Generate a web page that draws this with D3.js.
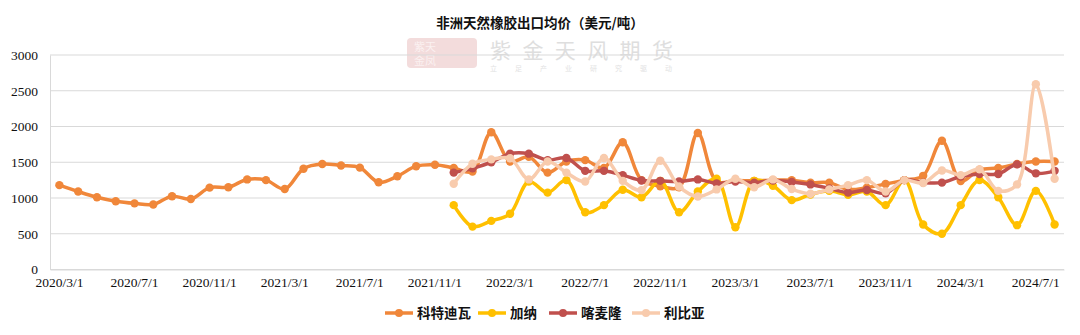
<!DOCTYPE html>
<html>
<head>
<meta charset="utf-8">
<script src="https://cdn.jsdelivr.net/npm/d3@7"></script>
<style>
  html, body { margin: 0; padding: 0; background: #fff; }
  svg { display: block; }
</style>
</head>
<body>
<svg id="chart" width="1080" height="335"></svg>
<script>
// Monthly export prices, 2020/3 – 2024/8 (USD per tonne)
const months = [];
for (let y = 2020, m = 3; !(y === 2024 && m === 9); ) {
  months.push(`${y}/${m}/1`);
  m++; if (m > 12) { m = 1; y++; }
}

const coteDIvoire = [1180, 1090, 1010, 955, 925, 910, 1025, 985, 1145, 1150,
  1260, 1250, 1125, 1410, 1475, 1455, 1425, 1220, 1305, 1445,
  1465, 1420, 1370, 1920, 1510, 1575, 1355, 1510, 1530, 1420,
  1780, 1250, 1165, 1150, 1910, 1230, 1243, 1240, 1250, 1250,
  1215, 1215, 1120, 1145, 1196, 1250, 1310, 1800, 1238, 1395,
  1420, 1475, 1510, 1510];

// Remaining series start in 2021/12
const pad = new Array(21).fill(null);
const ghana = pad.concat([900, 600, 680, 780, 1230, 1075, 1250, 800, 900,
  1115, 1010, 1240, 800, 1090, 1270, 590, 1240, 1170, 970,
  1050, 1100, 1045, 1090, 900, 1250, 630, 500, 900, 1250,
  1010, 620, 1100, 630]);
const cameroon = pad.concat([1355, 1415, 1500, 1620, 1620, 1530, 1560, 1380, 1380,
  1320, 1245, 1240, 1230, 1260, 1205, 1230, 1215, 1245, 1225,
  1190, 1135, 1075, 1112, 1065, 1250, 1215, 1215, 1300, 1336,
  1336, 1470, 1345, 1380]);
const liberia = pad.concat([1200, 1480, 1540, 1556, 1260, 1510, 1355, 1230, 1560,
  1240, 1110, 1520, 1160, 1020, 1120, 1270, 1150, 1260, 1125,
  1060, 1120, 1180, 1250, 1090, 1250, 1210, 1385, 1320, 1400,
  1100, 1190, 2590, 1270]);

const seriesNames = ["科特迪瓦", "加纳", "喀麦隆", "利比亚"];
const seriesColors = ["#F0873A", "#FFC000", "#C0504D", "#F8CBAD"];
const seriesValues = [coteDIvoire, ghana, cameroon, liberia];

const yTicks = [0, 500, 1000, 1500, 2000, 2500, 3000];
const xTickLabels = months.filter((d, i) => i % 4 === 0);

const svg = d3.select("#chart");
const margin = { left: 50, right: 16, top: 55, bottom: 65.5 };
const W = 1080, H = 335;

const x = d3.scaleBand().domain(months).range([margin.left, W - margin.right]);
const y = d3.scaleLinear().domain([0, 3000]).range([H - margin.bottom, margin.top]);
const cx = d => x(d) + x.bandwidth() / 2;

// Watermark: seal plus company name
const wm = svg.append("g");
wm.append("rect").attr("x", 407).attr("y", 38).attr("width", 70).attr("height", 30)
  .attr("rx", 4).attr("fill", "#f3dcdc");
wm.append("text").attr("x", 414).attr("y", 51).attr("fill", "#fbf1f1")
  .attr("font-family", "Noto Sans CJK SC").attr("font-size", 11)
  .text("紫天");
wm.append("text").attr("x", 414).attr("y", 65).attr("fill", "#fbf1f1")
  .attr("font-family", "Noto Sans CJK SC").attr("font-size", 11)
  .text("金凤");
wm.append("text").attr("x", 490).attr("y", 58).attr("fill", "#dedede")
  .attr("font-family", "Noto Sans CJK SC").attr("font-size", 21)
  .attr("textLength", 183).text("紫金天风期货");
wm.append("text").attr("x", 490).attr("y", 71).attr("fill", "#e2e2e2")
  .attr("font-family", "Noto Sans CJK SC").attr("font-size", 7)
  .attr("textLength", 182).text("立 足 产 业 研 究 驱 动");

// Title
svg.append("text").attr("x", 540).attr("y", 28).attr("text-anchor", "middle")
  .attr("font-family", "Noto Sans CJK SC").attr("font-weight", 700)
  .attr("font-size", 13.5).attr("fill", "#111")
  .text("非洲天然橡胶出口均价（美元/吨）");

// Gridlines
svg.append("g").selectAll("line").data(yTicks).join("line")
  .attr("x1", margin.left).attr("x2", W - margin.right)
  .attr("y1", d => y(d)).attr("y2", d => y(d))
  .attr("stroke", "#d9d9d9").attr("stroke-width", 1);

// Y axis
const yAxis = svg.append("g").attr("transform", `translate(${margin.left},0)`)
  .call(d3.axisLeft(y).tickValues(yTicks).tickFormat(d3.format("d")).tickSize(0).tickPadding(12));
yAxis.select(".domain").attr("stroke", "#d9d9d9");
yAxis.selectAll("text").attr("font-family", "Liberation Serif").attr("font-size", 13.5)
  .attr("fill", "#111");

// X axis
const xAxis = svg.append("g").attr("transform", `translate(0,${y(0)})`)
  .call(d3.axisBottom(x).tickValues(xTickLabels).tickSize(0).tickPadding(8));
xAxis.select(".domain").attr("stroke", "#d9d9d9");
xAxis.selectAll("text").attr("font-family", "Liberation Serif").attr("font-size", 13.5)
  .attr("fill", "#111");

// Series lines with markers
const line = d3.line()
  .defined(d => d.v != null)
  .x(d => cx(d.m)).y(d => y(d.v))
  .curve(d3.curveCatmullRom.alpha(0.5));

seriesValues.forEach((vals, si) => {
  const pts = months.map((m, i) => ({ m, v: vals[i] }));
  const g = svg.append("g");
  g.append("path").datum(pts).attr("d", line).attr("fill", "none")
    .attr("stroke", seriesColors[si]).attr("stroke-width", 3.5)
    .attr("stroke-linejoin", "round");
  g.selectAll("circle").data(pts.filter(d => d.v != null)).join("circle")
    .attr("cx", d => cx(d.m)).attr("cy", d => y(d.v)).attr("r", 4.2)
    .attr("fill", seriesColors[si]);
});

// Legend
const legendX = [385, 478, 549, 632];
const legend = svg.append("g");
seriesNames.forEach((name, i) => {
  const lg = legend.append("g").attr("transform", `translate(${legendX[i]},313)`);
  lg.append("line").attr("x1", 0).attr("x2", 28).attr("y1", 0).attr("y2", 0)
    .attr("stroke", seriesColors[i]).attr("stroke-width", 3.5);
  lg.append("circle").attr("cx", 14).attr("cy", 0).attr("r", 4).attr("fill", seriesColors[i]);
  lg.append("text").attr("x", 32).attr("y", 5).attr("font-family", "Noto Sans CJK SC")
    .attr("font-weight", 700).attr("font-size", 13.5).attr("fill", "#111").text(name);
});
</script>
</body>
</html>
